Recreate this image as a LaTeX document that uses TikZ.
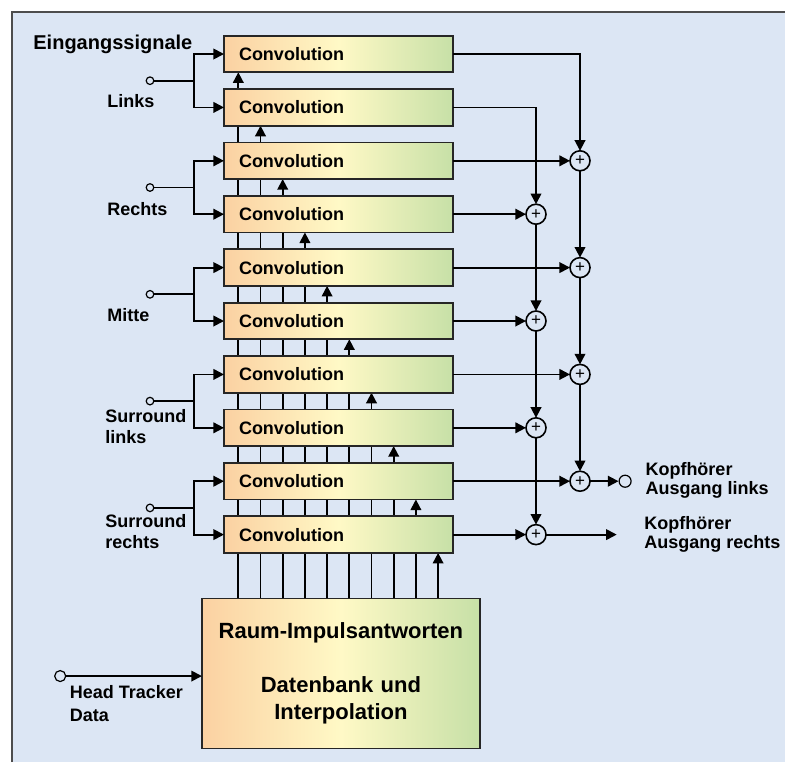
\documentclass[tikz,border=0pt]{standalone}
\usepackage{fontspec}
\setmainfont{Liberation Sans}
\usetikzlibrary{arrows.meta,backgrounds,calc,positioning}
\definecolor{hellblau}{HTML}{DCE6F4}
\definecolor{rahmen}{HTML}{4D4D4D}
\definecolor{orangehell}{HTML}{FBD1A2}
\definecolor{gelbhell}{HTML}{FFF9C6}
\definecolor{gruenhell}{HTML}{C7E0A7}

\begin{document}
\begin{tikzpicture}[
  x=0.5pt,y=-0.5pt,
  node distance=8.45pt and 36.5pt,
  font=\bfseries\fontsize{9}{10.5}\selectfont,
  conv/.style={draw=black!85,line width=0.9pt,left color=orangehell,right color=gruenhell,
               middle color=gelbhell,text width=99.5pt,inner xsep=7.5pt,outer sep=0pt,
               minimum height=18.25pt,align=left},
  sum/.style={draw,circle,line width=0.8pt,minimum size=10pt,inner sep=0pt,outer sep=0pt,
              font=\mdseries\fontsize{8.5}{8.5}\selectfont},
  port/.style={draw,circle,inner sep=0pt,minimum size=3.8pt,line width=0.6pt},
  lbl/.style={inner sep=0pt,align=left,anchor=north west},
  arr/.style={-{Triangle[length=5.3pt,width=5.3pt]},line width=0.9pt}
]
  \useasboundingbox (0,0) rectangle (785,762);
  \begin{scope}[on background layer]
    \fill[hellblau] (12,12) rectangle (785,762);
    \draw[rahmen,line width=1pt] (11.5,762) -- (11.5,11.5) -- (785,11.5);
  \end{scope}

  % Faltungsblöcke
  \node[conv] (c0) at (338.5,54) {Convolution};
  \node[conv,below=of c0] (c1) {Convolution};
  \node[conv,below=of c1] (c2) {Convolution};
  \node[conv,below=of c2] (c3) {Convolution};
  \node[conv,below=of c3] (c4) {Convolution};
  \node[conv,below=of c4] (c5) {Convolution};
  \node[conv,below=of c5] (c6) {Convolution};
  \node[conv,below=of c6] (c7) {Convolution};
  \node[conv,below=of c7] (c8) {Convolution};
  \node[conv,below=of c8] (c9) {Convolution};
  \node[conv,below=22.85pt of c9,xshift=1.2pt,text width=125pt,inner xsep=7pt,
        minimum height=75pt,align=center,font=\bfseries\fontsize{11}{13.5}\selectfont]
        (raum) {Raum-Impulsantworten\\[13.5pt]Datenbank und\\Interpolation};

  % Eingänge
  \node[lbl,anchor=base west,font=\bfseries\fontsize{10}{12}\selectfont] (titel) at (33,49.5) {Eingangssignale};
  \node[port] (inL) at ($(c0.west)!0.5!(c1.west)+(-74,0)$) {};
  \node[port] (inR) at ($(c2.west)!0.5!(c3.west)+(-74,0)$) {};
  \node[port] (inM) at ($(c4.west)!0.5!(c5.west)+(-74,0)$) {};
  \node[port] (inSL) at ($(c6.west)!0.5!(c7.west)+(-74,0)$) {};
  \node[port] (inSR) at ($(c8.west)!0.5!(c9.west)+(-74,0)$) {};
  \node[lbl] (lL) at ([xshift=-21.5pt,yshift=-6.7pt]inL.center) {Links};
  \node[lbl] (lR) at ([xshift=-21.5pt,yshift=-7.2pt]inR.center) {Rechts};
  \node[lbl] (lM) at ([xshift=-21.5pt,yshift=-6.9pt]inM.center) {Mitte};
  \node[lbl] (lSL) at ([xshift=-22.5pt,yshift=-4pt]inSL.center) {Surround\\links};
  \node[lbl] (lSR) at ([xshift=-22.5pt,yshift=-3pt]inSR.center) {Surround\\rechts};
  \draw[arr] (inL) -- ++(44,0) |- (c0);
  \draw[arr] (inL) -- ++(44,0) |- (c1);
  \draw[arr] (inR) -- ++(44,0) |- (c2);
  \draw[arr] (inR) -- ++(44,0) |- (c3);
  \draw[arr] (inM) -- ++(44,0) |- (c4);
  \draw[arr] (inM) -- ++(44,0) |- (c5);
  \draw[arr] (inSL) -- ++(44,0) |- (c6);
  \draw[arr] (inSL) -- ++(44,0) |- (c7);
  \draw[arr] (inSR) -- ++(44,0) |- (c8);
  \draw[arr] (inSR) -- ++(44,0) |- (c9);

  % Impulsantworten zu den Blöcken
  \foreach \k in {0,...,9}
    \path ([xshift=7.15pt+\k*11.1pt]c\k.south west) coordinate (top\k);
  \begin{scope}[on background layer]
    \foreach \k in {0,...,9}
      \draw[arr] (top\k |- raum.north) -- (top\k);
  \end{scope}

  % Head Tracker
  \node[port,minimum size=5.5pt] (ht) at ($(raum.west)+(-141.7,2.5)$) {};
  \node[lbl,font=\bfseries\fontsize{9}{11.4}\selectfont] (lHT) at ([xshift=4.65pt,yshift=-4.5pt]ht.center) {Head Tracker\\Data};
  \draw[arr] (ht) -- (ht -| raum.west);

  % Summierer
  \node[sum,right=58.5pt of c2] (aL1) {+};
  \node[sum,right=58.5pt of c4] (aL2) {+};
  \node[sum,right=58.5pt of c6] (aL3) {+};
  \node[sum,right=58.5pt of c8] (aL4) {+};
  \node[sum,right=of c3] (aR1) {+};
  \node[sum,right=of c5] (aR2) {+};
  \node[sum,right=of c7] (aR3) {+};
  \node[sum,right=of c9] (aR4) {+};
  \draw[arr] (c0) -| (aL1);
  \draw[arr] (c1) -| (aR1);
  \draw[arr] (c2) -- (aL1);
  \draw[arr] (c3) -- (aR1);
  \draw[arr] (c4) -- (aL2);
  \draw[arr] (c5) -- (aR2);
  \draw[arr] (c6) -- (aL3);
  \draw[arr] (c7) -- (aR3);
  \draw[arr] (c8) -- (aL4);
  \draw[arr] (c9) -- (aR4);
  \draw[arr] (aL1) -- (aL2);
  \draw[arr] (aL2) -- (aL3);
  \draw[arr] (aL3) -- (aL4);
  \draw[arr] (aR1) -- (aR2);
  \draw[arr] (aR2) -- (aR3);
  \draw[arr] (aR3) -- (aR4);

  % Ausgänge
  \node[port,minimum size=6pt,right=14.25pt of aL4] (outL) {};
  \coordinate[right=35.35pt of aR4] (outR);
  \draw[arr] (aL4) -- (outL);
  \draw[arr] (aR4) -- (outR);
  \node[lbl,font=\bfseries\fontsize{9}{9.2}\selectfont] (kL) at ([xshift=10pt,yshift=9.35pt]outL.center) {Kopfhörer\\Ausgang links};
  \node[lbl,font=\bfseries\fontsize{9}{9.2}\selectfont] (kR) at ([xshift=13.65pt,yshift=9.2pt]outR) {Kopfhörer\\Ausgang rechts};
\end{tikzpicture}
\end{document}
